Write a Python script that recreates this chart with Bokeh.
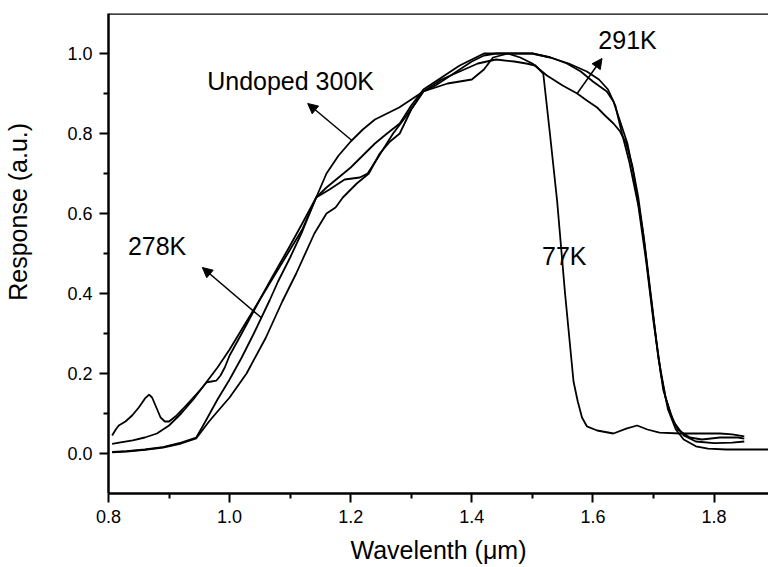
from bokeh.plotting import figure
from bokeh.models import Range1d, FixedTicker, Label, Arrow, NormalHead, Span, NumeralTickFormatter
from bokeh.embed import file_html
from bokeh.resources import INLINE

FONT = "Liberation Sans"

# ---- data ----
x_ticks = [0.8, 1.0, 1.2, 1.4, 1.6, 1.8]
x_minor = [0.9, 1.1, 1.3, 1.5, 1.7]
y_ticks = [0.0, 0.2, 0.4, 0.6, 0.8, 1.0]
y_minor = [0.1, 0.3, 0.5, 0.7, 0.9]

# 77K
x_77k = [0.806, 0.812, 0.817, 0.828, 0.839, 0.85, 0.86, 0.867, 0.872, 0.879, 0.886, 0.893, 0.90, 0.911,
         0.922, 0.933, 0.945, 0.955, 0.962, 0.97, 0.978, 0.985, 0.992, 1.00, 1.02, 1.05, 1.07, 1.10, 1.12,
         1.143, 1.165, 1.19, 1.215, 1.228, 1.245, 1.27, 1.29, 1.32, 1.35, 1.38, 1.41, 1.44, 1.47, 1.49,
         1.505, 1.518, 1.529, 1.541, 1.554, 1.568, 1.575, 1.582, 1.59, 1.607, 1.634, 1.655, 1.673, 1.69,
         1.71, 1.745, 1.78, 1.81, 1.83, 1.85]
y_77k = [0.045, 0.06, 0.07, 0.08, 0.095, 0.115, 0.137, 0.147, 0.14, 0.115, 0.09, 0.08, 0.08, 0.093,
         0.11, 0.128, 0.148, 0.165, 0.178, 0.18, 0.182, 0.195, 0.215, 0.245, 0.30, 0.385, 0.44, 0.52, 0.575,
         0.64, 0.66, 0.685, 0.69, 0.70, 0.74, 0.80, 0.84, 0.905, 0.935, 0.955, 0.975, 0.985, 0.98, 0.975,
         0.97, 0.95, 0.80, 0.63, 0.40, 0.18, 0.13, 0.09, 0.068, 0.0575, 0.05, 0.062, 0.07, 0.06,
         0.052, 0.05, 0.05, 0.05, 0.048, 0.043]

# Undoped 300K
x_300k = [0.806, 0.82, 0.84, 0.86, 0.88, 0.90, 0.92, 0.94, 0.96, 0.98, 1.00, 1.02, 1.04, 1.06, 1.08, 1.10,
          1.12, 1.143, 1.16, 1.18, 1.20, 1.22, 1.24, 1.26, 1.28, 1.30, 1.32, 1.34, 1.36, 1.38, 1.40, 1.42,
          1.44, 1.46, 1.48, 1.50, 1.524, 1.55, 1.574, 1.59, 1.607, 1.62, 1.634, 1.645, 1.655, 1.665, 1.675,
          1.685, 1.697, 1.708, 1.72, 1.733, 1.75, 1.77, 1.80, 1.83, 1.85]
y_300k = [0.024, 0.028, 0.033, 0.04, 0.05, 0.07, 0.10, 0.135, 0.175, 0.215, 0.26, 0.31, 0.36, 0.41, 0.46, 0.51,
          0.56, 0.64, 0.70, 0.745, 0.78, 0.81, 0.835, 0.85, 0.865, 0.885, 0.905, 0.92, 0.94, 0.96, 0.98, 0.995,
          1.0, 1.0, 0.99, 0.975, 0.945, 0.92, 0.90, 0.8825, 0.865, 0.845, 0.825, 0.805, 0.775, 0.72, 0.64,
          0.53, 0.38, 0.24, 0.14, 0.08, 0.045, 0.03, 0.026, 0.027, 0.03]

# 291K
x_291k = [0.806, 0.83, 0.86, 0.89, 0.92, 0.945, 0.96, 0.98, 1.00, 1.02, 1.04, 1.066, 1.08, 1.10, 1.12, 1.143,
          1.16, 1.18, 1.20, 1.22, 1.24, 1.26, 1.281, 1.30, 1.32, 1.34, 1.36, 1.38, 1.40, 1.42, 1.44, 1.47,
          1.50, 1.53, 1.557, 1.58, 1.60, 1.623, 1.634, 1.645, 1.657, 1.667, 1.683, 1.695, 1.705, 1.716,
          1.728, 1.74, 1.76, 1.78, 1.81, 1.84, 1.85]
y_291k = [0.004, 0.006, 0.01, 0.016, 0.027, 0.04, 0.08, 0.135, 0.185, 0.24, 0.30, 0.3825, 0.43, 0.49, 0.555, 0.64,
          0.665, 0.69, 0.715, 0.745, 0.775, 0.80, 0.825, 0.87, 0.91, 0.93, 0.95, 0.97, 0.985, 1.0, 1.0, 1.0,
          1.0, 0.99, 0.975, 0.955, 0.93, 0.905, 0.88, 0.83, 0.775, 0.70, 0.55, 0.40, 0.28, 0.16,
          0.10, 0.06, 0.04, 0.035, 0.04, 0.04, 0.037]

# 278K
x_278k = [0.806, 0.83, 0.86, 0.89, 0.92, 0.945, 0.966, 0.98, 1.00, 1.028, 1.06, 1.087, 1.11, 1.14, 1.16, 1.175,
          1.187, 1.21, 1.23, 1.248, 1.265, 1.281, 1.30, 1.32, 1.34, 1.36, 1.38, 1.40, 1.42, 1.435, 1.46, 1.50,
          1.53, 1.56, 1.59, 1.61, 1.625, 1.637, 1.648, 1.66, 1.675, 1.688, 1.70, 1.712, 1.724, 1.737, 1.75,
          1.77, 1.79, 1.82, 1.86, 1.89]
y_278k = [0.003, 0.005, 0.009, 0.015, 0.025, 0.038, 0.08, 0.105, 0.14, 0.20, 0.29, 0.38, 0.45, 0.55, 0.60, 0.615,
          0.64, 0.675, 0.70, 0.75, 0.78, 0.80, 0.86, 0.905, 0.915, 0.925, 0.93, 0.935, 0.96, 0.99, 1.0, 1.0,
          0.99, 0.975, 0.955, 0.935, 0.91, 0.87, 0.80, 0.73, 0.62, 0.48, 0.33, 0.20, 0.11, 0.06, 0.035,
          0.018, 0.012, 0.01, 0.01, 0.01]

curves = [(x_77k, y_77k), (x_300k, y_300k), (x_291k, y_291k), (x_278k, y_278k)]

# ---- figure ----
p = figure(width=768, height=567, x_range=Range1d(0.8, 1.89), y_range=Range1d(-0.1, 1.1),
           output_backend="svg", toolbar_location=None,
           min_border_left=108, min_border_right=0, min_border_top=13, min_border_bottom=74)
p.outline_line_color = None
p.grid.visible = False
p.background_fill_color = "white"
p.border_fill_color = "white"

p.xaxis.ticker = FixedTicker(ticks=x_ticks, minor_ticks=x_minor)
p.yaxis.ticker = FixedTicker(ticks=y_ticks, minor_ticks=y_minor)
p.xaxis.formatter = NumeralTickFormatter(format="0.0")
p.yaxis.formatter = NumeralTickFormatter(format="0.0")
for ax in (p.xaxis[0], p.yaxis[0]):
    ax.axis_line_width = 2.5
    ax.axis_line_color = "black"
    ax.major_tick_in = 0
    ax.major_tick_out = 9
    ax.minor_tick_in = 0
    ax.minor_tick_out = 5
    ax.major_tick_line_width = 2
    ax.minor_tick_line_width = 2
    ax.major_tick_line_color = "black"
    ax.minor_tick_line_color = "black"
    ax.major_label_text_font = FONT
    ax.major_label_text_font_size = "18px"
    ax.major_label_text_color = "black"
    ax.major_label_standoff = 7
    ax.axis_label_text_font = FONT
    ax.axis_label_text_font_size = "25px"
    ax.axis_label_text_font_style = "normal"
    ax.axis_label_text_color = "black"

p.xaxis.axis_label = "Wavelenth (\u03bcm)"
p.xaxis.axis_label_standoff = 10
# leading no-break spaces lift the rotated title above the frame centre, as in the reference
p.yaxis.axis_label = "\u00a0" * 12 + "Response (a.u.)"
p.yaxis.axis_label_standoff = 32

p.add_layout(Span(location=1.1, dimension="width", line_color="black", line_width=2.5))

for xs, ys in curves:
    p.line(xs, ys, line_color="black", line_width=1.8)

# annotations
for tx, ty, txt in [(0.963, 0.9325, "Undoped 300K"), (0.832, 0.52, "278K"),
                    (1.609, 1.035, "291K"), (1.516, 0.495, "77K")]:
    p.add_layout(Label(x=tx, y=ty, text=txt, text_font=FONT, text_font_size="25px",
                       text_align="left", text_baseline="alphabetic", text_color="black"))

for xs, ys, xe, ye in [(1.202, 0.7825, 1.129, 0.875), (1.052, 0.34, 0.955, 0.465),
                       (1.574, 0.90, 1.615, 0.9875)]:
    p.add_layout(Arrow(end=NormalHead(size=10, fill_color="black", line_color="black"),
                       x_start=xs, y_start=ys, x_end=xe, y_end=ye, line_width=1.5, line_color="black"))

open("out.html", "w").write(file_html(p, INLINE))
